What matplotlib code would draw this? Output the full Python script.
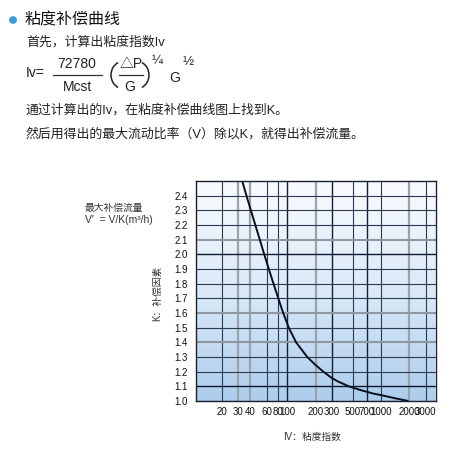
import numpy as np
import matplotlib
matplotlib.use("Agg")
import matplotlib.pyplot as plt
from matplotlib.colors import LinearSegmentedColormap
from matplotlib.patches import Arc

plt.rcParams['font.family'] = ['Liberation Sans', 'Noto Sans CJK SC', 'DejaVu Sans']

# ---- data ----
iv_ticks = [20, 30, 40, 60, 80, 100, 200, 300, 500, 700, 1000, 2000, 3000]
iv_tick_labels = ["20", "30", "40", "60", "80", "100", "200", "300", "500", "700", "1000", "2000", "3000"]
k_ticks = [1.0, 1.1, 1.2, 1.3, 1.4, 1.5, 1.6, 1.7, 1.8, 1.9, 2.0, 2.1, 2.2, 2.3, 2.4]
k_tick_labels = ["1.0", "1.1", "1.2", "1.3", "1.4", "1.5", "1.6", "1.7", "1.8", "1.9", "2.0", "2.1", "2.2", "2.3", "2.4"]

curve_iv = [33, 36.6, 40.8, 45.5, 50.8, 56.6, 63.4, 71.1, 80, 90.3, 103.5, 123.8, 163, 200,
            242, 300, 350, 452, 600, 834, 1000, 1400, 1700, 1950]
curve_k = [2.50, 2.40, 2.30, 2.20, 2.10, 2.00, 1.90, 1.80, 1.70, 1.60, 1.50, 1.40, 1.30, 1.245,
           1.20, 1.155, 1.132, 1.10, 1.075, 1.05, 1.04, 1.019, 1.008, 1.0]

# ---- figure ----
fig = plt.figure(figsize=(4.56, 4.49), dpi=100)
W, H = 456, 449

def fx(px):
    return px / W

def fy(py):
    return 1 - py / H

txt = '#222222'
# header text
fig.patches.append(plt.Circle((fx(13), fy(20)), 3.2 / W, transform=fig.transFigure,
                              color='#3d9bd6', zorder=5))
fig.text(fx(25), fy(20), "粘度补偿曲线", fontsize=11.5, va='center', ha='left', color='#111111')
fig.text(fx(26), fy(42), "首先，计算出粘度指数Iv", fontsize=9.3, va='center', ha='left', color=txt)

# formula
fs = 10
fig.text(fx(26), fy(73), "Iv=", fontsize=fs, va='center', ha='left', color=txt)
fig.text(fx(77), fy(64), "72780", fontsize=fs, va='center', ha='center', color=txt)
fig.lines.append(plt.Line2D([fx(53), fx(102)], [fy(75), fy(75)], transform=fig.transFigure,
                            color='#333333', lw=0.9))
fig.text(fx(78), fy(87), "Mcst", fontsize=fs, va='center', ha='center', color=txt)
fig.patches.append(Arc((fx(124), fy(75)), 26 / W, 28 / H, theta1=115, theta2=245,
                       transform=fig.transFigure, color=txt, lw=1.1))
fig.patches.append(Arc((fx(136), fy(75)), 26 / W, 28 / H, theta1=-65, theta2=65,
                       transform=fig.transFigure, color=txt, lw=1.1))
fig.text(fx(131), fy(64), "△P", fontsize=fs, va='center', ha='center', color=txt)
fig.lines.append(plt.Line2D([fx(119), fx(143)], [fy(75), fy(75)], transform=fig.transFigure,
                            color='#333333', lw=0.9))
fig.text(fx(130), fy(87), "G", fontsize=fs, va='center', ha='center', color=txt)
fig.text(fx(157), fy(61), "¼", fontsize=9.5, va='center', ha='center', color=txt)
fig.text(fx(175), fy(78), "G", fontsize=fs, va='center', ha='center', color=txt)
fig.text(fx(188), fy(62), "½", fontsize=9.5, va='center', ha='center', color=txt)

fig.text(fx(26), fy(110), "通过计算出的Iv，在粘度补偿曲线图上找到K。", fontsize=9.3,
         va='center', ha='left', color=txt)
fig.text(fx(26), fy(134), "然后用得出的最大流动比率（V）除以K，就得出补偿流量。", fontsize=9.3,
         va='center', ha='left', color=txt)

# chart axes
ax = fig.add_axes([fx(196), fy(401), (436 - 196) / W, (401 - 181) / H])
xmin, xmax = 10.6, 3850
ymin, ymax = 1.0, 2.5
ax.set_xscale('log')
ax.set_xlim(xmin, xmax)
ax.set_ylim(ymin, ymax)

cmap = LinearSegmentedColormap.from_list('bg', ['#f9fbfe', '#dbe9f7', '#adcdec'])
grad = np.linspace(0, 1, 256).reshape(-1, 1)
ax.imshow(grad, cmap=cmap, aspect='auto', extent=[xmin, xmax, ymin, ymax],
          zorder=0, origin='upper')

gray_x = {30, 40, 200, 2000}
dark_x = {100, 300, 700}
for v in iv_ticks:
    if v in gray_x:
        ax.axvline(v, color='#9aa3ab', lw=1.6, zorder=1)
    elif v in dark_x:
        ax.axvline(v, color='#10203a', lw=1.0, zorder=1)
    else:
        ax.axvline(v, color='#2a3a50', lw=0.8, zorder=1)

gray_y = {2.1, 1.6, 1.4}
dark_y = {2.0, 1.1}
for v in k_ticks:
    if v in gray_y:
        ax.axhline(v, color='#8d98a3', lw=1.5, zorder=1)
    elif v in dark_y:
        ax.axhline(v, color='#0c1830', lw=1.0, zorder=1)
    else:
        ax.axhline(v, color='#2a3a50', lw=0.8, zorder=1)

ax.plot(curve_iv, curve_k, color='#0a0f1e', lw=1.4, zorder=3, solid_capstyle='butt',
        solid_joinstyle='round')

for s in ax.spines.values():
    s.set_color('#1a2030')
    s.set_linewidth(1.0)

ax.set_xticks(iv_ticks)
ax.set_xticklabels(iv_tick_labels)
ax.xaxis.set_minor_locator(matplotlib.ticker.NullLocator())
ax.set_yticks(k_ticks)
ax.set_yticklabels(k_tick_labels)
ax.tick_params(axis='both', length=0, labelsize=7.0, colors='#111111')
ax.tick_params(axis='x', pad=4)
ax.tick_params(axis='y', pad=6)

# side annotations
fig.text(fx(85), fy(208), "最大补偿流量", fontsize=7, va='center', ha='left', color='#333333')
fig.text(fx(85), fy(220), "V′  = V/K(m³/h)", fontsize=7.5, va='center', ha='left', color='#333333')
fig.text(fx(157), fy(293), "K：补偿因素", fontsize=7, va='center', ha='center',
         rotation=90, color='#333333')
fig.text(fx(283), fy(437), "IV：粘度指数", fontsize=7, va='center', ha='left', color='#333333')

fig.savefig("out.png", dpi=100, facecolor='white')
